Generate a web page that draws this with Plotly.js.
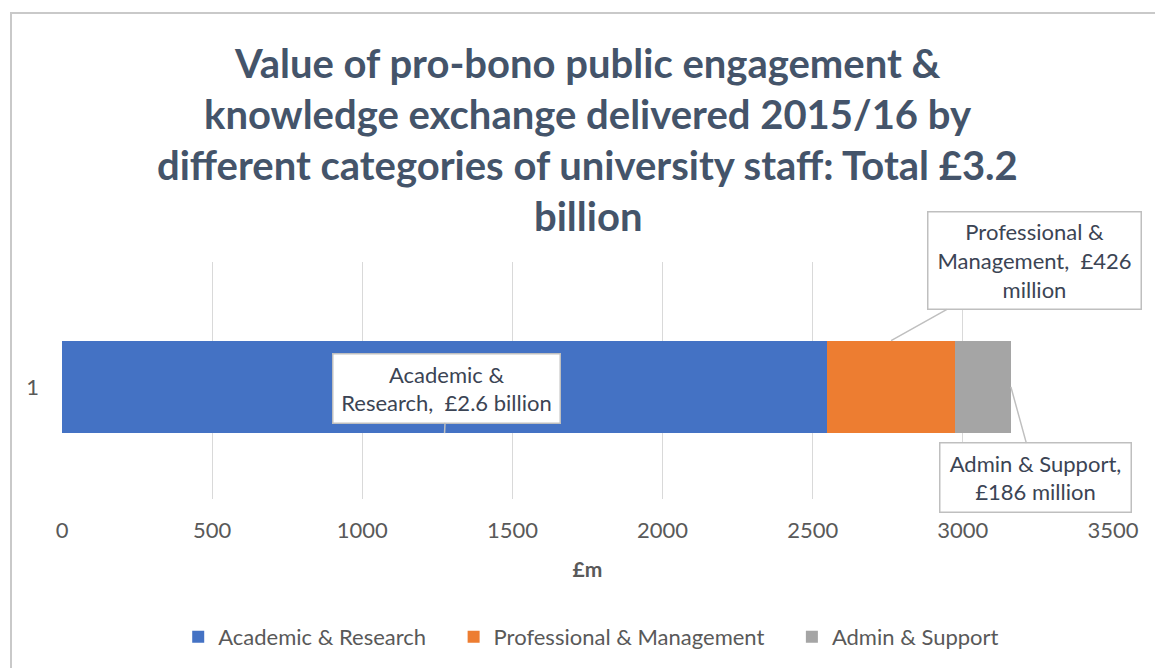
<!DOCTYPE html>
<html>
<head>
<meta charset="utf-8">
<script src="https://cdn.plot.ly/plotly-3.0.1.min.js"></script>
<style>
  html, body { margin: 0; padding: 0; background: #fff; }
  #chart { width: 1155px; height: 668px; }
  #frame {
    position: absolute; left: 10px; top: 12px; width: 1200px; height: 700px;
    border: 2px solid #c9c9c9; pointer-events: none;
  }
</style>
</head>
<body>
<div id="chart"></div>
<div id="frame"></div>
<script>
const category = ["1"];
const seriesNames = ["Academic & Research", "Professional & Management", "Admin & Support"];
const seriesValues = [2548, 426, 186];
const seriesColors = ["#4472c4", "#ed7d31", "#a5a5a5"];
const calloutText = [
  "Academic &<br>Research,\u00a0 £2.6 billion",
  "Professional &<br>Management,\u00a0 £426<br>million",
  "Admin & Support,<br>£186 million"
];
const titleLines = [
  "Value of pro-bono public engagement &",
  "knowledge exchange delivered 2015/16 by",
  "different categories of university staff: Total £3.2",
  "billion"
];
const xTicks = [0, 500, 1000, 1500, 2000, 2500, 3000, 3500];

const barWidth = 0.39;
const ink = "#44546a";
const grey = "#595959";

// plot area in page pixels: left 62, right 1113, top 262, bottom 500
const py = (pix) => (500 - pix) / 238;

// trailing spaces widen the gap between legend entries
const pad = "\u00a0".repeat(4);

const traces = seriesNames.map((name, i) => ({
  type: "bar",
  orientation: "h",
  name: name + pad,
  y: category,
  x: [seriesValues[i]],
  width: barWidth,
  marker: { color: seriesColors[i], line: { width: 0 } },
  hovertemplate: name + ": %{x}<extra></extra>"
}));

const ac = seriesValues[0], pm = seriesValues[1], total = seriesValues.reduce((a, b) => a + b, 0);

const box = {
  showarrow: true, arrowhead: 0, arrowwidth: 1.5, arrowcolor: "#bfbfbf",
  bgcolor: "#ffffff", bordercolor: "#bfbfbf", borderwidth: 1.5,
  font: { family: "Lato, sans-serif", size: 22, color: "#3b4454" },
  xref: "x", yref: "y", align: "center"
};

const annotations = [
  { ...box, text: calloutText[0], x: ac / 2, y: -barWidth / 2, ax: 2, ay: -45, width: 224, height: 66 },
  { ...box, text: calloutText[1], x: ac + pm / 2, y: barWidth / 2, ax: 143, ay: -80, width: 210, height: 94 },
  { ...box, text: calloutText[2], x: total, y: 0, ax: 25, ay: 91, width: 188, height: 66 }
];

const titleY = [62, 113, 165, 216];
titleLines.forEach((t, i) => annotations.push({
  text: "<b>" + t + "</b>", showarrow: false, xref: "paper", yref: "paper",
  x: 0.5, y: py(titleY[i]), xanchor: "center", yanchor: "middle",
  font: { family: "Lato, sans-serif", size: 40, color: ink }
}));

const layout = {
  width: 1155, height: 668,
  paper_bgcolor: "#ffffff", plot_bgcolor: "#ffffff",
  margin: { l: 62, r: 42, t: 262, b: 168 },
  font: { family: "Lato, sans-serif", color: grey, size: 22 },
  barmode: "stack",
  showlegend: true,
  legend: {
    orientation: "h", x: 0.514, xanchor: "center", y: py(637), yanchor: "middle",
    font: { size: 22, color: grey }, traceorder: "normal", itemwidth: 30
  },
  xaxis: {
    range: [0, 3500], tickvals: xTicks, ticktext: xTicks.map(String),
    showgrid: true, gridcolor: "#d9d9d9", gridwidth: 1,
    zeroline: false, showline: false, ticks: "",
    tickfont: { size: 22, color: grey }, ticklabelstandoff: 16,
    title: { text: "<b>£m</b>", font: { size: 21, color: grey }, standoff: 20 }
  },
  yaxis: {
    type: "category", range: [-0.473, 0.527],
    showgrid: false, zeroline: false, showline: false, ticks: "",
    tickfont: { size: 22, color: grey }, ticklabelstandoff: 22
  },
  annotations: annotations
};

Plotly.newPlot("chart", traces, layout, { displayModeBar: false, responsive: false });
</script>
</body>
</html>
